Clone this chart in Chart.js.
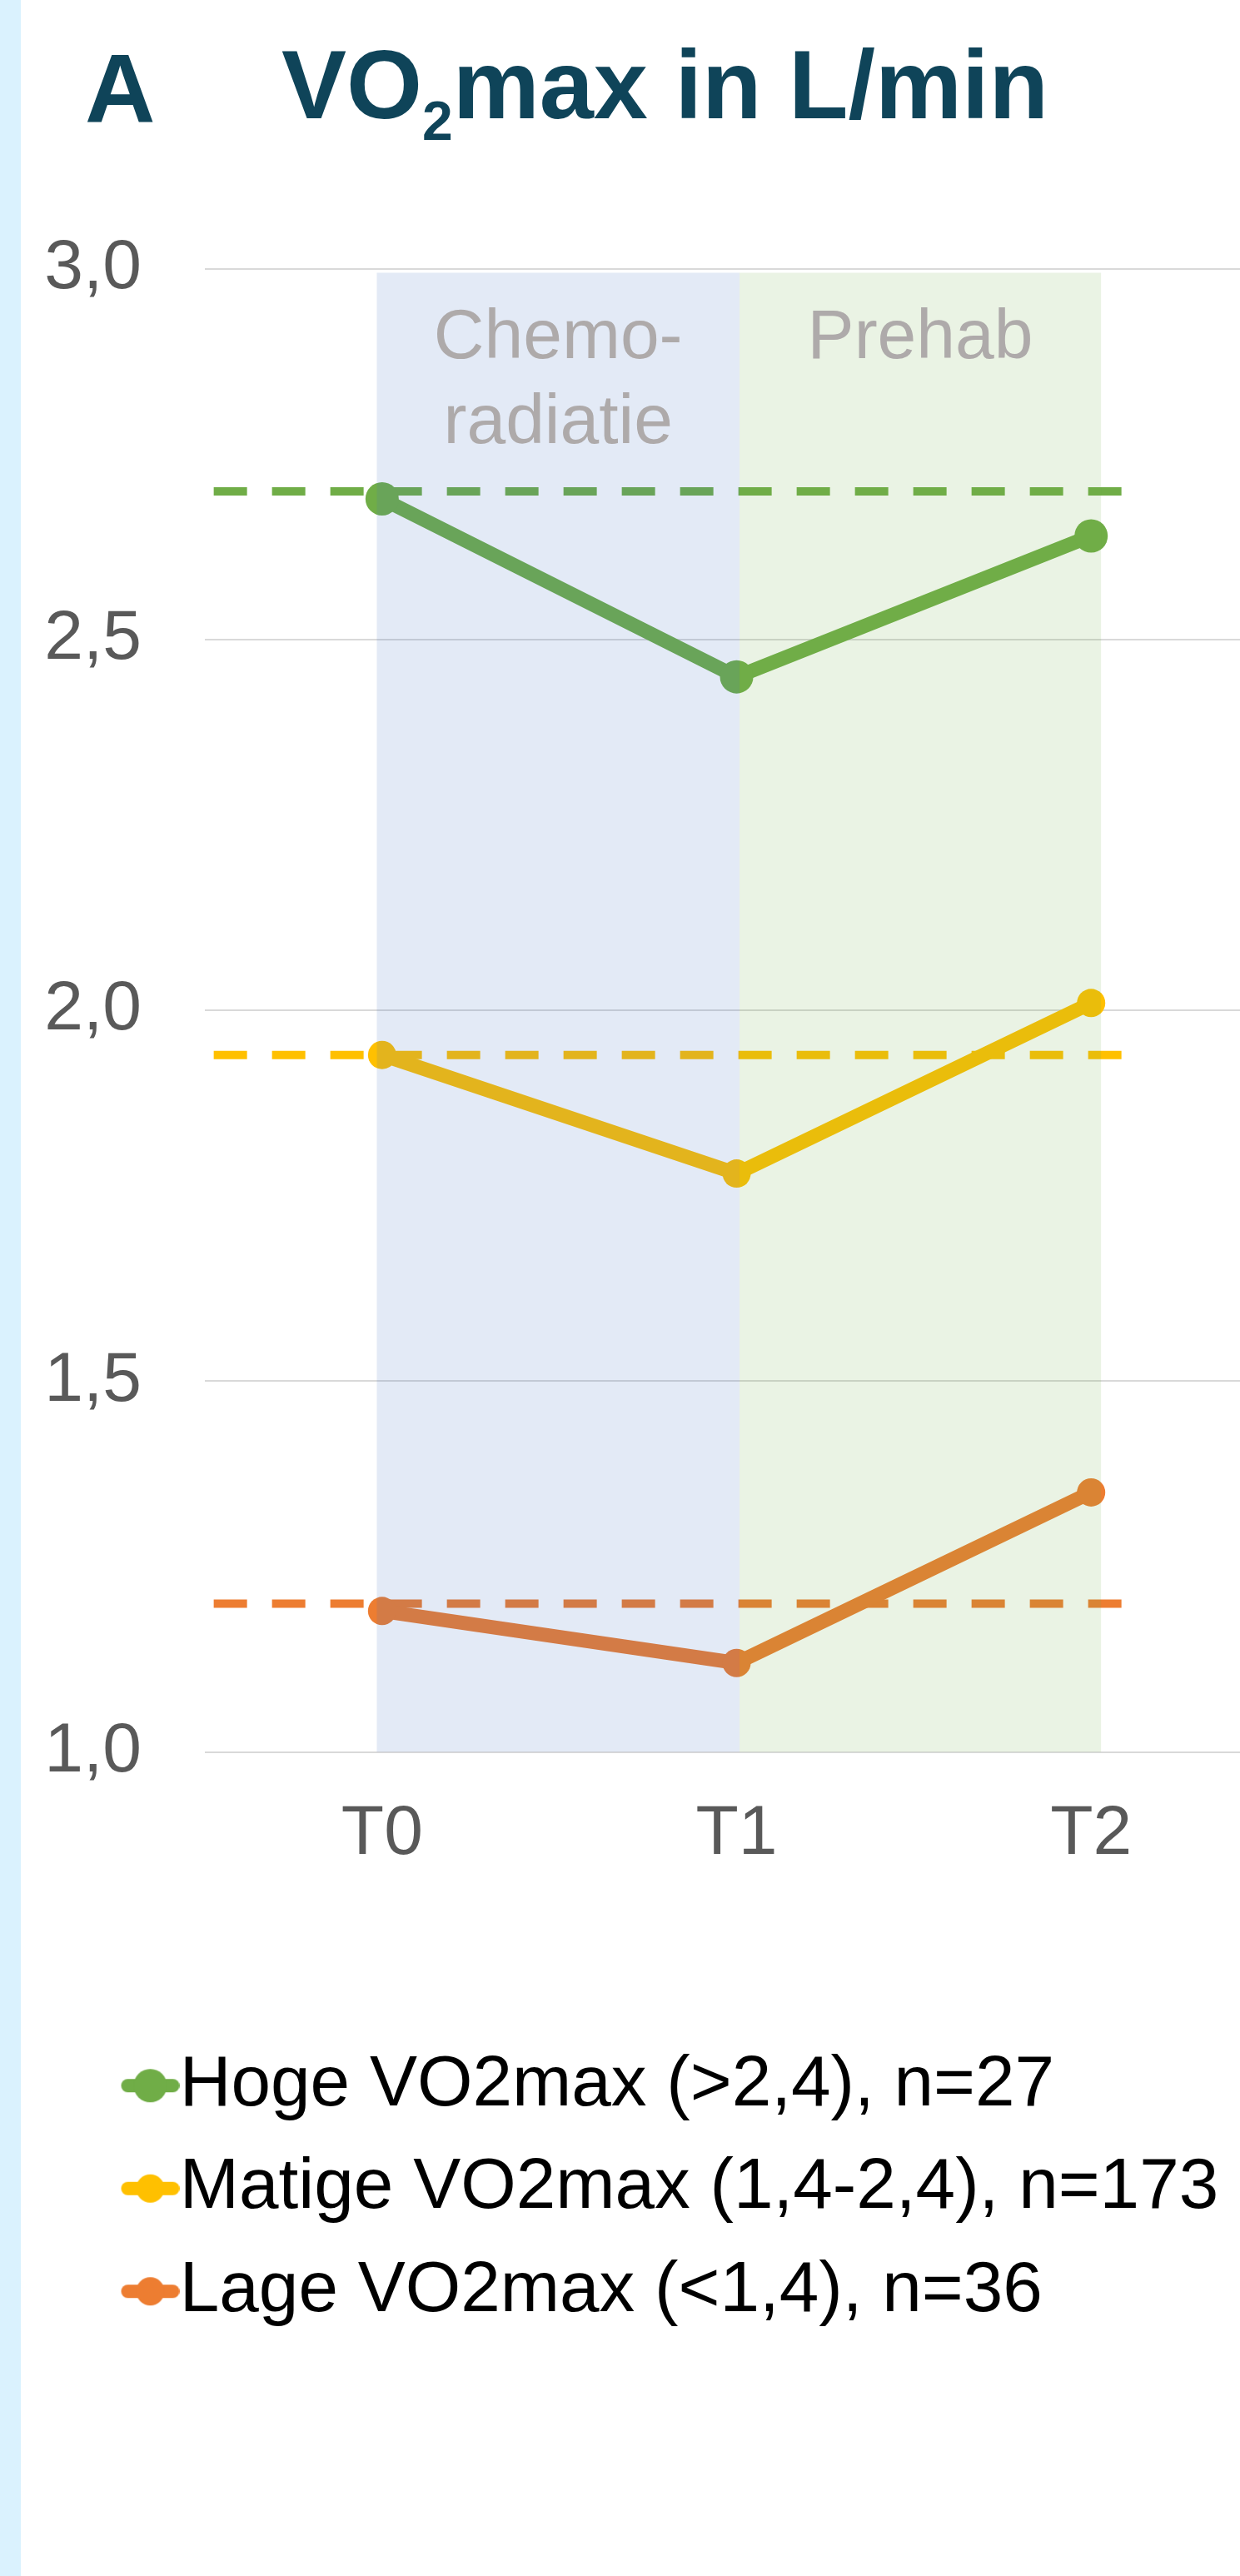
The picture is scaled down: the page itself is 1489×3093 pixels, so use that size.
<!DOCTYPE html>
<html>
<head>
<meta charset="utf-8">
<script src="https://cdn.jsdelivr.net/npm/chart.js@4.4.1/dist/chart.umd.min.js"></script>
<style>
  html, body { margin: 0; padding: 0; background: #ffffff; }
  body { width: 1489px; height: 3093px; position: relative; overflow: hidden; font-family: "Liberation Sans", Arial, sans-serif; }
  .strip { position: absolute; left: 0; top: 0; width: 25px; height: 100%; background: #DAF2FE; }
  .title { position: absolute; font-weight: bold; font-size: 117px; line-height: 117px; color: #0F4459; white-space: nowrap; }
  .title sub { font-size: 66px; line-height: 0; vertical-align: baseline; position: relative; top: 26px; }
  canvas { position: absolute; left: 0; top: 0; }
</style>
</head>
<body>
<div class="strip"></div>
<div class="title" style="left:102px; top:48px;">A</div>
<div class="title" style="left:338px; top:43px;">VO<sub>2</sub>max in L/min</div>
<canvas id="chart" width="1489" height="3093"></canvas>
<script>
// Data
const timepoints = ["T0", "T1", "T2"];
const seriesNames = [
  "Hoge VO2max (>2,4), n=27",
  "Matige VO2max (1,4-2,4), n=173",
  "Lage VO2max (<1,4), n=36",
];
const hogeValues = [2.69, 2.45, 2.64];
const matigeValues = [1.94, 1.78, 2.01];
const lageValues = [1.19, 1.12, 1.35];
const referenceValues = [2.70, 1.94, 1.20];
const yTickValues = [1.0, 1.5, 2.0, 2.5, 3.0];
const phaseLabels = [["Chemo-", "radiatie"], ["Prehab"]];

// Layout / style (x in category units, T0 = 0)
const X_MIN = -0.5;
const X_MAX = 2.42;
const REF_FROM = -0.475;
const REF_TO = 2.09;
const PHASE_START = [-0.015, 1.008];
const PHASE_END = [1.008, 2.028];
const PHASE_TOP = 2.995;
const PHASE_COLORS = ["rgba(68, 114, 196, 0.15)", "rgba(112, 173, 71, 0.15)"];
const COLORS = ["#70AD47", "#FFC000", "#ED7D31"];
const POINT_RADII = [20, 17, 17];
const FONT_FAMILY = "'Liberation Sans', Arial, sans-serif";
const tickFont = { size: 84, family: FONT_FAMILY };

const mainSets = [hogeValues, matigeValues, lageValues].map((vals, i) => ({
  label: seriesNames[i],
  data: vals.map((v, k) => ({ x: k, y: v })),
  borderColor: COLORS[i],
  backgroundColor: COLORS[i],
  borderWidth: 17,
  pointRadius: POINT_RADII[i],
  pointHoverRadius: POINT_RADII[i],
  pointBorderWidth: 0,
  tension: 0,
  order: 1,
}));

const refSets = referenceValues.map((v, i) => ({
  label: "ref-" + i,
  data: [{ x: REF_FROM, y: v }, { x: REF_TO, y: v }],
  borderColor: COLORS[i],
  borderWidth: 10,
  borderDash: [40, 30],
  pointRadius: 0,
  order: 2,
}));

// legend marker: short line with a dot, placed right of the canvas centre
function legendIcon(color, radius) {
  const c = document.createElement("canvas");
  c.width = 180;
  c.height = 44;
  const g = c.getContext("2d");
  g.strokeStyle = color;
  g.lineWidth = 16;
  g.lineCap = "round";
  g.beginPath();
  g.moveTo(118, 22);
  g.lineTo(172, 22);
  g.stroke();
  g.fillStyle = color;
  g.beginPath();
  g.arc(145, 22, radius, 0, Math.PI * 2);
  g.fill();
  return c;
}
const icons = COLORS.map((c, i) => legendIcon(c, POINT_RADII[i]));

// shaded phases are laid over the lines, then labelled
const phasePlugin = {
  id: "phases",
  afterDatasetsDraw(chart) {
    const { ctx, chartArea, scales: { x, y } } = chart;
    const top = y.getPixelForValue(PHASE_TOP);
    ctx.save();
    phaseLabels.forEach((lines, i) => {
      const left = x.getPixelForValue(PHASE_START[i]);
      const right = x.getPixelForValue(PHASE_END[i]);
      ctx.fillStyle = PHASE_COLORS[i];
      ctx.fillRect(left, top, right - left, chartArea.bottom - top);
    });
    ctx.fillStyle = "#AEAAAA";
    ctx.font = "84px " + FONT_FAMILY;
    ctx.textAlign = "center";
    ctx.textBaseline = "alphabetic";
    phaseLabels.forEach((lines, i) => {
      const cx = (x.getPixelForValue(PHASE_START[i]) + x.getPixelForValue(PHASE_END[i])) / 2;
      lines.forEach((t, k) => ctx.fillText(t, cx, top + 103 + k * 102));
    });
    ctx.restore();
  },
};

new Chart(document.getElementById("chart"), {
  type: "line",
  data: { datasets: [...mainSets, ...refSets] },
  plugins: [phasePlugin],
  options: {
    responsive: false,
    devicePixelRatio: 1,
    animation: false,
    events: [],
    layout: { autoPadding: false, padding: { top: 323, left: 40, right: 0, bottom: 289 } },
    plugins: {
      tooltip: { enabled: false },
      legend: {
        position: "bottom",
        align: "start",
        labels: {
          usePointStyle: true,
          pointStyleWidth: 95,
          padding: 38,
          color: "#000000",
          font: { size: 85.5, family: FONT_FAMILY },
          generateLabels: () =>
            mainSets.map((ds, i) => ({
              text: ds.label,
              pointStyle: icons[i],
              datasetIndex: i,
              hidden: false,
              fillStyle: COLORS[i],
              strokeStyle: COLORS[i],
              lineWidth: 0,
            })),
        },
      },
    },
    scales: {
      x: {
        type: "linear",
        min: X_MIN,
        max: X_MAX,
        grid: { display: false, drawTicks: false },
        border: { display: false },
        afterBuildTicks: (scale) => {
          scale.ticks = timepoints.map((_, i) => ({ value: i }));
        },
        afterFit: (scale) => {
          scale.height = 320;
          scale.paddingLeft = 0;
          scale.paddingRight = 0;
        },
        ticks: {
          padding: 49,
          color: "#595959",
          font: tickFont,
          maxRotation: 0,
          autoSkip: false,
          callback: (v) => timepoints[v],
        },
      },
      y: {
        min: 1,
        max: 3,
        grid: { color: "#D9D9D9", lineWidth: 2, drawTicks: false },
        border: { display: false },
        afterBuildTicks: (scale) => {
          scale.ticks = yTickValues.map((v) => ({ value: v }));
        },
        afterFit: (scale) => {
          scale.width = 206;
        },
        ticks: {
          padding: 76,
          color: "#595959",
          font: tickFont,
          callback: (v) => v.toFixed(1).replace(".", ","),
        },
      },
    },
  },
});
</script>
</body>
</html>
